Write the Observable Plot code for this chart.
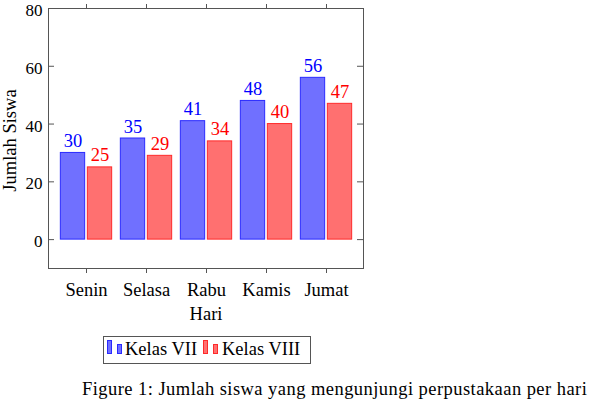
<!DOCTYPE html>
<html><head><meta charset="utf-8">
<script src="https://cdn.jsdelivr.net/npm/d3@7"></script>
<script src="https://cdn.jsdelivr.net/npm/@observablehq/plot@0.6"></script>
<style>
body{margin:0;background:#fff;font-family:"Liberation Serif",serif;}
#wrap{position:relative;width:600px;height:400px;overflow:hidden;}
#chart{position:absolute;left:0;top:0;}
#chart svg, #chart svg text{font-family:"Liberation Serif",serif !important;}
.abs{position:absolute;white-space:nowrap;font-size:18.5px;line-height:18px;color:#000;font-family:"Liberation Serif",serif;}
#legend{position:absolute;left:103px;top:336px;width:206px;height:26px;border:1px solid #555;box-sizing:content-box;}
.ib{position:absolute;bottom:0;width:5px;box-sizing:border-box;}
</style></head><body>
<div id="wrap"><div id="chart"></div>
<div id="legend"></div>
<div class="abs" id="caption" style="left:82px;top:380px;letter-spacing:0.45px;"></div>
</div>
<script>
const days = ["Senin","Selasa","Rabu","Kamis","Jumat"];
const kelasVII = [30,35,41,48,56];
const kelasVIII = [25,29,34,40,47];
const yTicks = [0,20,40,60,80];
const seriesNames = ["Kelas VII","Kelas VIII"];
const xLabel = "Hari";
const yLabel = "Jumlah Siswa";
const captionText = "Figure 1: Jumlah siswa yang mengunjungi perpustakaan per hari";

const dataVII = days.map((d,i)=>({day:d, kelas:seriesNames[0], v:kelasVII[i]}));
const dataVIII = days.map((d,i)=>({day:d, kelas:seriesNames[1], v:kelasVIII[i]}));

const mL=48, mR=237, mT=8, mB=57, W=600, H=325;
const innerW = W-mL-mR;
const pi=0.1, po=0.1426;
const step = innerW/(days.length - pi + 2*po);
const bw = step*(1-pi);
const barW=25, gap=2, off=gap/2+barW/2;
const blueFill="#7070ff", blueStroke="#2a2aff", redFill="#ff7070", redStroke="#ff2a2a";
const axisGray="#555";
const fs = 18.5;

const plot = Plot.plot({
  width:W, height:H, marginLeft:mL, marginRight:mR, marginTop:mT, marginBottom:mB,
  style:{fontFamily:"Liberation Serif, serif", fontSize:fs+"px", background:"white", color:"black"},
  x:{type:"band", domain:days, paddingInner:pi, paddingOuter:po, label:null},
  y:{domain:[-10,80], label:null},
  marks:[
    Plot.barY(dataVII, {x:"day", y:"v", fill:blueFill, stroke:blueStroke, strokeWidth:1,
      insetLeft:bw/2-gap/2-barW, insetRight:bw/2+gap/2}),
    Plot.barY(dataVIII, {x:"day", y:"v", fill:redFill, stroke:redStroke, strokeWidth:1,
      insetLeft:bw/2+gap/2, insetRight:bw/2-gap/2-barW}),
    Plot.text(dataVII, {x:"day", y:"v", text:d=>String(d.v), dx:-off, dy:-6, lineAnchor:"bottom", fill:"#0000ff", fontSize:fs}),
    Plot.text(dataVIII, {x:"day", y:"v", text:d=>String(d.v), dx:off, dy:-6, lineAnchor:"bottom", fill:"#ff0000", fontSize:fs}),
    Plot.tickY(yTicks, {y:d=>d, insetRight:innerW-6, stroke:axisGray}),
    Plot.tickY(yTicks, {y:d=>d, insetLeft:innerW-6, stroke:axisGray}),
    Plot.axisY({ticks:yTicks, tickSize:0, tickPadding:6, dy:2, label:null, fill:"black", fontSize:17}),
    Plot.axisX({anchor:"bottom", tickSize:5, tickPadding:9, label:null, stroke:axisGray, fill:"black", fontSize:fs}),
    Plot.axisX({anchor:"top", tickSize:5, tickFormat:()=>"", label:null, stroke:axisGray}),
    Plot.frame({stroke:axisGray}),
    Plot.text([yLabel], {text:d=>d, frameAnchor:"left", rotate:-90, dx:-33, dy:2, lineAnchor:"bottom", textAnchor:"middle", fill:"black", fontSize:fs}),
    Plot.text([xLabel], {text:d=>d, frameAnchor:"bottom", dy:51, lineAnchor:"bottom", fill:"black", fontSize:fs})
  ]
});
document.getElementById("chart").appendChild(plot);

// legend
const legend = document.getElementById("legend");
const entries = [
  {name:seriesNames[0], fill:blueFill, stroke:blueStroke, iconX:3, textX:21},
  {name:seriesNames[1], fill:redFill, stroke:redStroke, iconX:99, textX:118}
];
for (const e of entries) {
  const b1 = document.createElement("div");
  b1.className="ib"; b1.style.left=e.iconX+"px"; b1.style.bottom="9px"; b1.style.height="14px";
  b1.style.background=e.fill; b1.style.border="1px solid "+e.stroke;
  const b2 = document.createElement("div");
  b2.className="ib"; b2.style.left=(e.iconX+10)+"px"; b2.style.bottom="9px"; b2.style.height="10px";
  b2.style.background=e.fill; b2.style.border="1px solid "+e.stroke;
  const t = document.createElement("div");
  t.className="abs"; t.style.left=e.textX+"px"; t.style.top="3px"; t.textContent=e.name;
  legend.append(b1,b2,t);
}
document.getElementById("caption").textContent = captionText;
</script>
</body></html>
